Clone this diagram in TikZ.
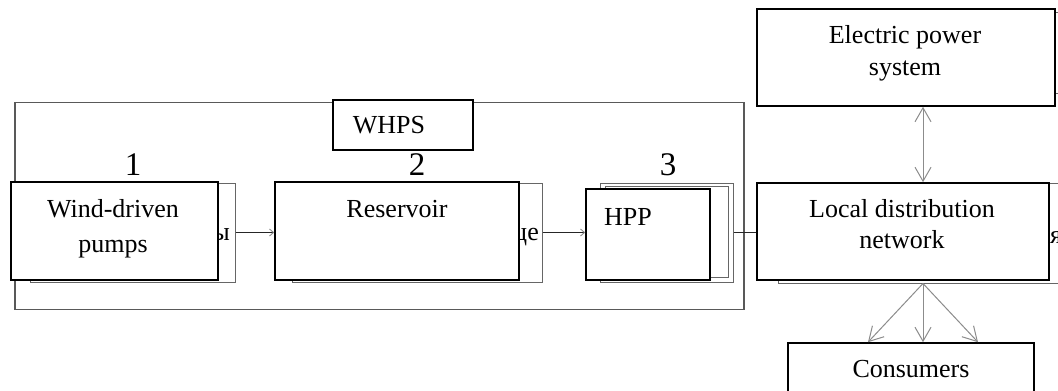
\documentclass[tikz,border=0pt]{standalone}
\usepackage{fontspec}
\setmainfont{Liberation Serif}
\usetikzlibrary{arrows.meta}
\tikzset{gtip/.tip={Straight Barb[length=14pt,width=16pt]}}
\begin{document}
\begin{tikzpicture}[x=1pt,y=-1pt,
  frontbox/.style={draw=black,line width=1.6pt,fill=white,inner sep=0pt,rectangle},
  backbox/.style={draw=black!60,line width=1pt,fill=white,inner sep=0pt,rectangle},
  framebox/.style={draw=black!65,line width=1.1pt,inner sep=0pt,rectangle},
  txt/.style={font=\fontsize{26}{31}\selectfont,inner sep=0pt,anchor=base},
  numtxt/.style={font=\fontsize{33}{38}\selectfont,inner sep=0pt,anchor=base},
  ghost/.style={font=\fontsize{26}{31}\selectfont,inner sep=0pt},
  conn/.style={draw=black!85,line width=0.9pt},
  stip/.style={-{Straight Barb[length=4pt,width=7pt,color=black!45]}},
  garrow/.style={draw=black!45,line width=1pt}
]
\useasboundingbox (0,0) rectangle (1058,391);
\clip (0,0) rectangle (1058,391);
\fill[white] (0,0) rectangle (1058,391);

% WHPS frame
\node[framebox,minimum width=729pt,minimum height=207pt] (frame) at (379.5,206) {};

% back (shadow) boxes
\node[backbox,minimum width=205pt,minimum height=99pt] (wb) at (132.5,232.5) {};
\node[backbox,minimum width=250pt,minimum height=99pt] (rb) at (417,232.5) {};
\node[backbox,minimum width=133pt,minimum height=99pt] (hb1) at (666.5,232.5) {};
\node[backbox,minimum width=123pt,minimum height=91pt] (hb2) at (666.5,231.5) {};
\node[backbox,minimum width=292pt,minimum height=81pt] (epssh) at (916,53) {};
\node[backbox,minimum width=287pt,minimum height=100pt] (locsh) at (921.5,233) {};

% partially hidden texts
\node[ghost,anchor=base east] (g1) at (230,240) {ы};
\node[ghost,anchor=base east] (g2) at (539,240) {ще};
\node[ghost,anchor=base west] (g3) at (1050,243) {я};

% front boxes
\node[frontbox,minimum width=207pt,minimum height=98pt] (wf) at (114.5,231) {};
\node[frontbox,minimum width=244pt,minimum height=98pt] (rf) at (397,231) {};
\node[frontbox,minimum width=124pt,minimum height=91pt] (hf) at (648,234.5) {};
\node[frontbox,minimum width=140pt,minimum height=50pt] (whps) at (403,125) {};
\node[frontbox,minimum width=298pt,minimum height=97pt] (eps) at (906,57.5) {};
\node[frontbox,minimum width=292pt,minimum height=97pt] (loc) at (903,231.5) {};
\node[frontbox,minimum width=246pt,minimum height=58pt] (cons) at (911,372) {};

% connectors between blocks
\draw[conn,stip] (wb.east) -- (wb.east -| rf.west);
\draw[conn,stip] (rb.east) -- (rb.east -| hf.west);
\draw[conn] (hb1.east) -- (hb1.east -| loc.west);

% grey arrows
\draw[garrow,gtip-gtip] ([xshift=17pt]eps.south) -- ([xshift=20pt]loc.north);
\draw[garrow,-gtip] ([xshift=1.5pt]locsh.south) -- ([xshift=-43pt]cons.north);
\draw[garrow,-gtip] ([xshift=1.5pt]locsh.south) -- ([xshift=12pt]cons.north);
\draw[garrow,-gtip] ([xshift=1.5pt]locsh.south) -- ([xshift=67pt]cons.north);

% texts
\node[txt] (t1a) at (113,217) {Wind-driven};
\node[txt] (t1b) at (113,252) {pumps};
\node[txt] (t2) at (397,217) {Reservoir};
\node[txt] (t3) at (628,225) {HPP};
\node[txt] (t4) at (389,133) {WHPS};
\node[txt] (t5a) at (905,43) {Electric power};
\node[txt] (t5b) at (905,75) {system};
\node[txt] (t6a) at (902,217) {Local distribution};
\node[txt] (t6b) at (902,248) {network};
\node[txt] (t7) at (911,377) {Consumers};
\node[numtxt] (n1) at (133,175) {1};
\node[numtxt] (n2) at (417,175) {2};
\node[numtxt] (n3) at (668,175) {3};
\end{tikzpicture}
\end{document}
